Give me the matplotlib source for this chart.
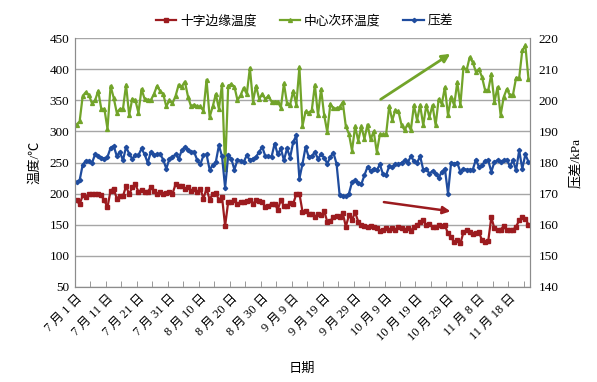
import datetime as dt
import matplotlib
matplotlib.use("Agg")
import matplotlib.pyplot as plt
from matplotlib.lines import Line2D

plt.rcParams['font.family'] = ['Liberation Serif', 'Noto Sans CJK SC']
plt.rcParams['axes.unicode_minus'] = False

# 十字边缘温度 (left axis, degC)
edge_temp = [189, 183, 197, 195, 199, 199, 200, 200, 197, 189,
             178, 205, 208, 192, 196, 196, 212, 199, 210, 215,
             203, 206, 203, 203, 210, 204, 199, 203, 199, 201,
             203, 200, 215, 212, 212, 208, 210, 205, 208, 203,
             208, 192, 208, 190, 200, 201, 190, 195, 148, 187,
             187, 190, 183, 187, 187, 188, 190, 183, 190, 188,
             187, 179, 180, 184, 184, 174, 190, 180, 180, 185,
             184, 199, 200,
             171, 172, 168, 168, 162, 168, 165, 172, 155, 156,
             163, 164, 163, 169, 147, 165, 158, 170, 155, 149,
             148, 147, 148, 147, 145, 140, 141, 144, 142, 145,
             142, 147, 145, 141, 144, 140, 147, 149, 155, 157,
             149, 151, 147, 147, 149, 148, 149, 136, 130, 122,
             126, 120, 138, 141, 138, 135, 136, 138, 125, 122,
             124, 162, 144, 141, 142, 148, 141, 141, 142, 147,
             157, 162, 160, 150]

# 中心次环温度 (left axis, degC)
center_temp = [311, 316, 357, 363, 358, 345, 350, 365, 336, 336,
               304, 373, 354, 330, 336, 336, 375, 326, 352, 350,
               330, 368, 352, 351, 350, 360, 373, 365, 360, 340,
               350, 345, 357, 375, 372, 380, 356, 340, 343, 340,
               340, 333, 383, 323, 340, 360, 336, 376, 240, 373,
               376, 372, 350, 358, 370, 360, 402, 348, 373, 352,
               360, 352, 357, 348, 348, 348, 338, 377, 345, 343,
               365, 343, 403,
               309, 332, 330, 334, 375, 326, 368, 326, 299, 344,
               337, 337, 339, 347, 308, 296, 269, 308, 285, 308,
               288, 311, 287, 300, 267, 295, 295, 295, 340, 318,
               334, 332, 310, 302, 312, 302,
               342, 318, 342, 310, 342, 323, 342, 310, 352, 344,
               371, 326, 355, 342, 379, 342, 403, 398, 419, 411,
               396, 400, 387, 366, 366, 392, 347, 371, 326, 355,
               368, 358, 359, 386, 386, 430, 438, 384]

# 压差 (right axis, kPa)
pressure = [173.7, 174.3, 179.3, 180.5, 180.5, 179.9, 182.6, 182.1, 181.6, 181.2,
            181.8, 184.7, 185.3, 182.1, 183.4, 180.7, 185.0, 182.8, 181.2, 182.3,
            182.3, 184.5, 182.6, 179.9, 183.4, 182.3, 182.6, 182.8, 180.9, 178.0,
            181.2, 181.8, 182.6, 181.2, 183.9, 185.0, 183.9, 183.4, 183.4, 180.7,
            179.4, 182.3, 182.6, 177.7, 179.1, 180.2, 185.5, 182.0, 171.9, 182.3,
            181.2, 177.7, 180.9, 180.5, 180.2, 182.3, 180.7, 181.2, 181.8, 183.4,
            185.0, 182.0, 182.0, 181.8, 186.1, 182.6, 184.5, 180.7, 184.5, 181.6,
            186.6, 188.7, 174.8,
            179.6, 185.0, 181.8, 182.0, 183.4, 181.2, 182.6, 181.6, 179.6, 181.8,
            183.1, 179.6, 169.5, 169.1, 169.1, 170.0, 173.7, 174.3, 173.4, 173.0,
            175.9, 178.6, 177.3, 178.0, 177.5, 179.4, 176.2, 175.9, 178.8, 178.4,
            179.6, 179.4, 179.9, 180.7, 180.0, 182.0, 180.5, 179.9, 182.0, 177.7,
            178.0, 176.4, 177.3, 176.4, 175.1, 177.0, 178.0, 170.0, 179.9, 179.6,
            179.9, 177.0, 178.0, 177.7, 177.7, 177.7, 180.9, 178.6, 179.1, 180.5,
            180.7, 177.0, 180.2, 180.7, 180.2, 180.7, 180.9, 178.8, 180.7, 177.5,
            183.9, 178.0, 182.6, 180.2]

start_date = dt.date(2000, 7, 1)
n_days = len(edge_temp)
days = list(range(n_days))
label_days = list(range(0, n_days, 10))
tick_labels = []
for d in label_days:
    day = start_date + dt.timedelta(days=d)
    tick_labels.append(f"{day.month} 月 {day.day} 日")

# trend arrows (x = day index, y = left axis value)
arrow_up = ((97.5, 349), (121.5, 427))
arrow_down = ((98.4, 187), (121.7, 171))

c_red = '#9c1b1f'
c_green = '#72a42a'
c_blue = '#1f4c9e'
grid_c = '#a6a6a6'

fig = plt.figure(figsize=(5.97, 3.82), dpi=100)
ax = fig.add_axes([0.1256, 0.2487, 0.7622, 0.6518])
ax2 = ax.twinx()

ax.plot(days, edge_temp, color=c_red, lw=1.6, marker='s', ms=2.6, label='十字边缘温度')
ax.plot(days, center_temp, color=c_green, lw=1.6, marker='^', ms=2.8, label='中心次环温度')
ax2.plot(days, pressure, color=c_blue, lw=1.6, marker='D', ms=2.2, label='压差')

ax.set_xlim(-0.5, n_days - 0.5)
ax.set_ylim(50, 450)
ax.set_yticks(range(50, 451, 50))
ax2.set_ylim(140, 220)
ax2.set_yticks(range(140, 221, 10))

ax.grid(axis='y', color=grid_c, lw=1)
ax.set_axisbelow(True)

ax.set_xticks(label_days)
ax.set_xticklabels(tick_labels, rotation=45, ha='right', va='top',
                   rotation_mode='anchor', fontsize=9)
ax.set_xticks([x - 0.5 for x in range(0, n_days + 1, 5)], minor=True)
ax.tick_params(axis='x', which='major', length=0, pad=4)
ax.tick_params(axis='x', which='minor', direction='in', length=4, color='#888888')
ax.tick_params(axis='y', length=0, labelsize=9.5, pad=4)
ax2.tick_params(axis='y', length=0, labelsize=9.5, pad=6)

for a in (ax, ax2):
    for s in ('left', 'right', 'bottom'):
        a.spines[s].set_color('#8c8c8c')
    a.spines['top'].set_visible(False)

ax.set_ylabel('温度/℃', fontsize=9.5, labelpad=6)
ax2.set_ylabel('压差/kPa', fontsize=9.5, labelpad=8)
fig.text(0.506, 0.035, '日期', ha='center', va='center', fontsize=9.5)

ax.annotate('', xy=arrow_up[1], xytext=arrow_up[0],
            arrowprops=dict(arrowstyle='-|>', color=c_green, lw=2, mutation_scale=12))
ax.annotate('', xy=arrow_down[1], xytext=arrow_down[0],
            arrowprops=dict(arrowstyle='-|>', color=c_red, lw=1.8, mutation_scale=11))

handles = [Line2D([], [], color=c_red, lw=1.6, marker='s', ms=2.6),
           Line2D([], [], color=c_green, lw=1.6, marker='^', ms=2.8),
           Line2D([], [], color=c_blue, lw=1.6, marker='D', ms=2.2)]
fig.legend(handles, ['十字边缘温度', '中心次环温度', '压差'], loc='center',
           bbox_to_anchor=(0.51, 0.945), ncol=3, frameon=False, fontsize=9.2,
           handlelength=1.6, handletextpad=0.3, columnspacing=1.8)

fig.savefig('out.png', dpi=100)
